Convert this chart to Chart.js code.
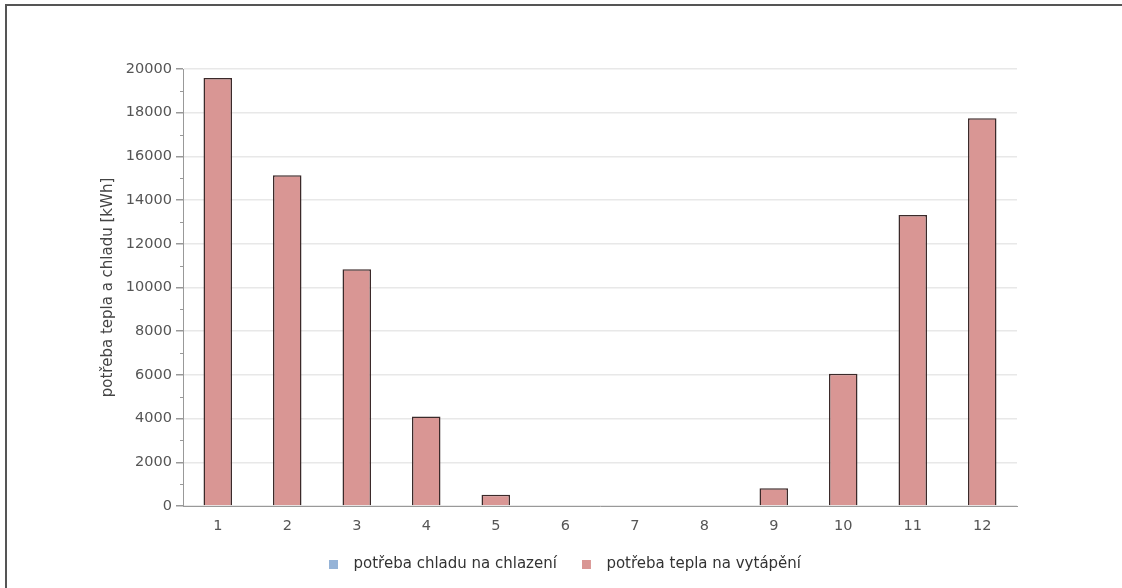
<!DOCTYPE html>
<html>
<head>
<meta charset="utf-8">
<script src="https://cdn.jsdelivr.net/npm/chart.js@4/dist/chart.umd.min.js"></script>
<style>
    html, body { margin: 0; padding: 0; background: #fff; overflow: hidden; }
    #wrap { position: relative; width: 1122px; height: 588px; overflow: hidden; }
    #frame {
        position: absolute; left: 5px; top: 4px; width: 1200px; height: 700px;
        border-top: 2px solid #555; border-left: 2px solid #555;
        pointer-events: none;
    }
</style>
</head>
<body>
<div id="wrap">
    <canvas id="barChart" width="1122" height="588"></canvas>
    <div id="frame"></div>
</div>
<script>
        const months = ['1', '2', '3', '4', '5', '6', '7', '8', '9', '10', '11', '12'];
        const chlazeni = [0, 0, 0, 0, 0, 0, 0, 0, 0, 0, 0, 0];
        const vytapeni = [19590, 15140, 10830, 4100, 520, 0, 0, 0, 810, 6050, 13320, 17750];

        const tickFont = { family: 'DejaVu Sans', size: 14.5 };
        const textFont = { family: 'DejaVu Sans', size: 15 };

        // legend marker: small square with some empty room after it
        function legendMarker(color) {
            const c = document.createElement('canvas');
            c.width = 17; c.height = 9;
            const g = c.getContext('2d');
            g.fillStyle = color;
            g.fillRect(0, 0, 9, 9);
            return c;
        }

        // short minor ticks on the y axis (every 1000), legend nudged right
        const extras = {
            id: 'extras',
            afterLayout(chart) {
                chart.legend.left += 9;
                chart.legend.right += 9;
            },
            afterDraw(chart) {
                const y = chart.scales.y;
                const ctx = chart.ctx;
                ctx.save();
                ctx.strokeStyle = '#999';
                ctx.lineWidth = 1;
                y.ticks.forEach(t => {
                    if (t.value % 2000 === 0) return;
                    const py = Math.round(y.getPixelForValue(t.value)) + 0.5;
                    ctx.beginPath();
                    ctx.moveTo(y.right - 3, py);
                    ctx.lineTo(y.right, py);
                    ctx.stroke();
                });
                ctx.restore();
            }
        };

        const barCtx = document.getElementById('barChart');
        new Chart(barCtx, {
            type: 'bar',
            data: {
                labels: months,
                datasets: [
                    {
                        label: 'potřeba chladu na chlazení',
                        data: chlazeni,
                        backgroundColor: '#95b3d7',
                        borderColor: '#3b2a2a',
                        borderWidth: 1.5
                    },
                    {
                        label: 'potřeba tepla na vytápění',
                        data: vytapeni,
                        backgroundColor: '#d99694',
                        borderColor: '#3b2a2a',
                        borderWidth: 1.5
                    }
                ]
            },
            plugins: [extras],
            options: {
                responsive: false,
                animation: false,
                barPercentage: 0.41,
                categoryPercentage: 1,
                layout: { padding: { top: 69, right: 105, bottom: 6, left: 95 } },
                plugins: {
                    tooltip: { enabled: false },
                    legend: {
                        position: 'bottom',
                        labels: {
                            usePointStyle: true,
                            pointStyleWidth: 17,
                            boxHeight: 9,
                            padding: 25,
                            color: '#333',
                            font: textFont,
                            generateLabels: (chart) => {
                                const items = Chart.defaults.plugins.legend.labels.generateLabels(chart);
                                items.forEach(it => {
                                    it.pointStyle = legendMarker(it.fillStyle);
                                    it.lineWidth = 0;
                                });
                                return items;
                            }
                        }
                    }
                },
                scales: {
                    x: {
                        stacked: true,
                        afterFit: (s) => { s.height = 26; },
                        grid: { display: false, drawTicks: false },
                        border: { display: true, color: '#999', width: 1 },
                        ticks: { color: '#555', font: tickFont, padding: 12 }
                    },
                    y: {
                        beginAtZero: true,
                        min: 0,
                        max: 20000,
                        afterFit: (s) => { s.width = 88; },
                        title: {
                            display: true,
                            text: 'potřeba tepla a chladu [kWh]',
                            color: '#444',
                            font: textFont,
                            padding: 4
                        },
                        border: { display: true, color: '#999', width: 1 },
                        grid: {
                            color: (ctx) => ctx.tick && ctx.tick.value % 2000 === 0 ? '#e8e8e8' : 'rgba(0,0,0,0)',
                            tickColor: (ctx) => ctx.tick && ctx.tick.value % 2000 === 0 ? '#999' : 'rgba(0,0,0,0)',
                            tickLength: 7,
                            lineWidth: 1.5
                        },
                        ticks: {
                            stepSize: 1000,
                            autoSkip: false,
                            color: '#555',
                            font: tickFont,
                            padding: 4,
                            callback: (v) => v % 2000 === 0 ? String(v) : ''
                        }
                    }
                }
            }
        });
</script>
</body>
</html>
